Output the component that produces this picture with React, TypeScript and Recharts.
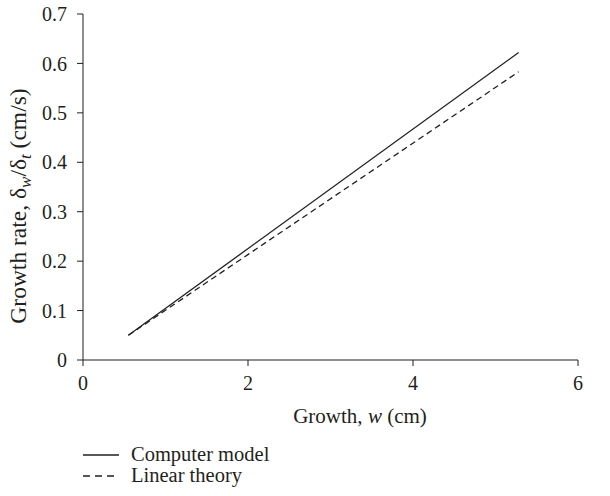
import { Line, LineChart, XAxis, YAxis } from "recharts";

const growthW = [0.55, 5.28];
const computerModel = [0.05, 0.622];
const linearTheory = [0.05, 0.583];
const xTicks = [0, 2, 4, 6];
const yTicks = [0, 0.1, 0.2, 0.3, 0.4, 0.5, 0.6, 0.7];

const data = growthW.map((w, i) => ({
  w,
  computer: computerModel[i],
  linear: linearTheory[i],
}));

const FONT = "'Liberation Serif', 'DejaVu Serif', serif";
const INK = "#231f20";

function YLabel() {
  return (
    <text
      x={26}
      y={206}
      transform="rotate(-90 26 206)"
      textAnchor="middle"
      fontFamily={FONT}
      fontSize={23.5}
      fill={INK}
    >
      Growth rate, δ
      <tspan fontStyle="italic" fontSize={17} dy={5}>w</tspan>
      <tspan dy={-5}>/δ</tspan>
      <tspan fontStyle="italic" fontSize={17} dy={5}>t</tspan>
      <tspan dy={-5}> (cm/s)</tspan>
    </text>
  );
}

function XLabel() {
  return (
    <text x={360} y={423} textAnchor="middle" fontFamily={FONT} fontSize={21} fill={INK}>
      Growth, <tspan fontStyle="italic">w</tspan> (cm)
    </text>
  );
}

export default function App() {
  const tick = { fontFamily: FONT, fontSize: 20, fill: INK };
  return (
    <div style={{ position: "relative", width: 610, height: 496, background: "#fff" }}>
      <style>{`body{margin:0}`}</style>
      <LineChart width={610} height={496} data={data} margin={{ top: 14, right: 32, bottom: 0, left: 0 }}>
        <XAxis
          type="number"
          dataKey="w"
          domain={[0, 6]}
          ticks={xTicks}
          height={136}
          tickSize={6}
          tickMargin={10}
          tick={tick}
          stroke={INK}
          label={{ content: () => <XLabel /> }}
        />
        <YAxis
          type="number"
          domain={[0, 0.7]}
          ticks={yTicks}
          width={83}
          tickSize={6}
          tickMargin={10}
          tick={tick}
          stroke={INK}
          tickFormatter={(v: number) => (v === 0 ? "0" : v.toFixed(1))}
          label={{ content: () => <YLabel /> }}
        />
        <Line
          type="linear"
          dataKey="computer"
          stroke={INK}
          strokeWidth={1.3}
          dot={false}
          isAnimationActive={false}
        />
        <Line
          type="linear"
          dataKey="linear"
          stroke={INK}
          strokeWidth={1.3}
          strokeDasharray="6 4"
          dot={false}
          isAnimationActive={false}
        />
      </LineChart>
      <div style={{ position: "absolute", left: 83, top: 444, fontFamily: FONT, fontSize: 20.5, color: INK, lineHeight: "21px" }}>
        <div style={{ display: "flex", alignItems: "center", height: 21 }}>
          <svg width={48} height={21}>
            <line x1={0} y1={11} x2={36} y2={11} stroke={INK} strokeWidth={1.3} />
          </svg>
          <span>Computer model</span>
        </div>
        <div style={{ display: "flex", alignItems: "center", height: 21 }}>
          <svg width={48} height={21}>
            <line x1={0} y1={11} x2={36} y2={11} stroke={INK} strokeWidth={1.3} strokeDasharray="7 5" />
          </svg>
          <span>Linear theory</span>
        </div>
      </div>
    </div>
  );
}
